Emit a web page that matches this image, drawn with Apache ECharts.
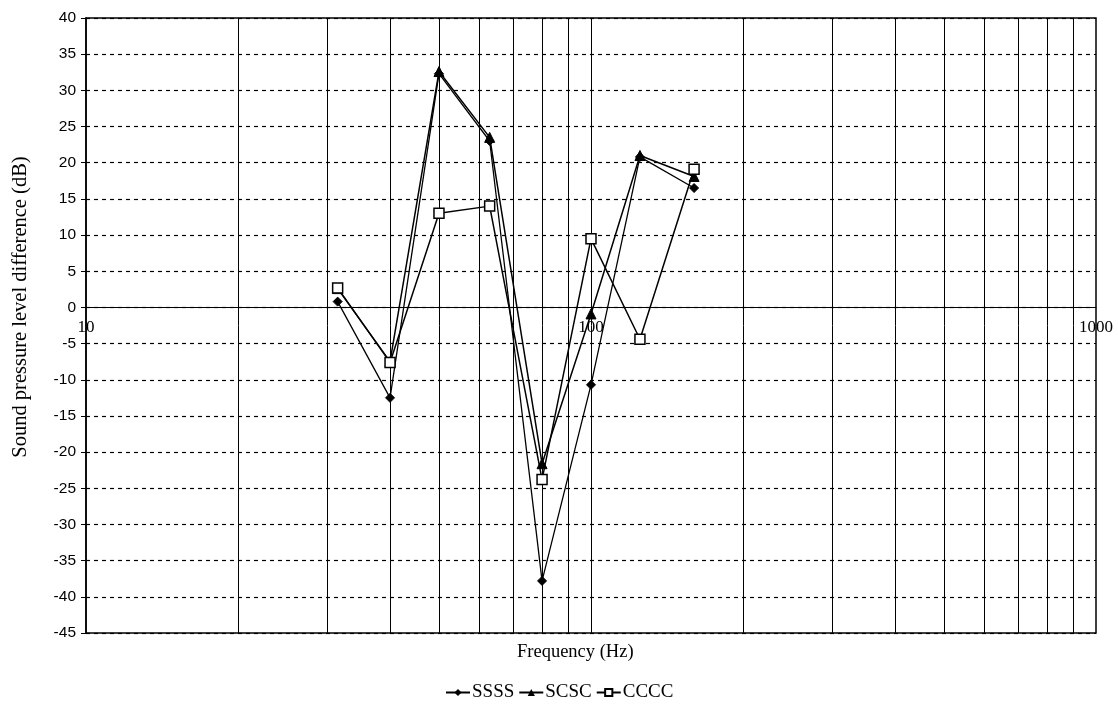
<!DOCTYPE html>
<html>
<head>
<meta charset="utf-8">
<script src="https://cdn.jsdelivr.net/npm/echarts@6/dist/echarts.min.js"></script>
<style>html,body{margin:0;padding:0;background:#fff}#c{width:1118px;height:709px}</style>
</head>
<body>
<div id="c"></div>
<script>
const freqs = [31.5, 40, 50, 63, 80, 100, 125, 160];
const ssss = [0.8, -12.5, 32.3, 23.0, -37.8, -10.7, 20.8, 16.5];
const scsc = [2.6, -7.5, 32.6, 23.5, -21.6, -0.9, 21.0, 18.1];
const cccc = [2.7, -7.6, 13.0, 14.0, -23.8, 9.5, -4.4, 19.1];
const minorFreqs = [20, 30, 40, 50, 60, 70, 80, 90, 100, 200, 300, 400, 500, 600, 700, 800, 900];
const yMin = -45, yMax = 40, yStep = 5;

const serif = '"Liberation Serif", "DejaVu Serif", serif';
const sans = '"Liberation Sans", Arial, sans-serif';
const pair = (vals) => freqs.map((f, i) => [f, vals[i]]);

const W = 1118, H = 709;
const gTop = 18, gBottom = 76, gLeft = 86, gRight = 22;
const plotH = H - gTop - gBottom;
// move the x axis (line + labels) up to the value 0, like the reference
const xOffset = -plotH * (0 - yMin) / (yMax - yMin);

const chart = echarts.init(document.getElementById('c'), null, {renderer: 'canvas'});
chart.setOption({
  animation: false,
  backgroundColor: '#fff',
  grid: {left: gLeft, right: gRight, top: gTop, bottom: gBottom, show: true, borderColor: '#000', borderWidth: 1.5, backgroundColor: 'transparent'},
  xAxis: {
    type: 'log', logBase: 10, min: 10, max: 1000,
    position: 'bottom', offset: xOffset,
    axisLine: {onZero: false, lineStyle: {color: '#000', width: 1}},
    axisTick: {show: false},
    splitLine: {show: false},
    axisLabel: {color: '#000', fontFamily: serif, fontSize: 17, margin: 12, formatter: v => String(v)}
  },
  yAxis: {
    type: 'value', min: yMin, max: yMax, interval: yStep,
    axisLine: {show: true, lineStyle: {color: '#000', width: 1.5}},
    axisTick: {show: true, inside: false, length: 5, lineStyle: {color: '#000'}},
    axisLabel: {color: '#000', fontFamily: sans, fontSize: 15.5, margin: 10},
    splitLine: {show: true, lineStyle: {color: '#000', width: 1.2, type: [4, 4]}}
  },
  graphic: [
    {
      type: 'text', left: 517, top: 643,
      style: {text: 'Frequency (Hz)', fill: '#000', font: '18.5px ' + serif}
    },
    {
      type: 'text', x: 21, y: 307, rotation: Math.PI / 2,
      style: {text: 'Sound pressure level difference (dB)', fill: '#000', font: '20.5px ' + serif,
              align: 'center', verticalAlign: 'middle'}
    }
  ],
  legend: {
    left: 440, top: 678,
    data: ['SSSS', 'SCSC', 'CCCC'],
    itemWidth: 24, itemHeight: 9, itemGap: 4,
    textStyle: {color: '#000', fontFamily: serif, fontSize: 19, padding: [0, 0, 0, -3]}
  },
  series: [
    {
      name: 'gridlines', type: 'line', data: [], silent: true, z: 1,
      markLine: {
        silent: true, symbol: 'none', animation: false,
        label: {show: false},
        lineStyle: {color: '#000', width: 1, type: 'solid'},
        data: minorFreqs.map(f => ({xAxis: f}))
      }
    },
    {
      name: 'SSSS', type: 'line', data: pair(ssss), z: 3,
      symbol: 'diamond', symbolSize: 9,
      lineStyle: {color: '#000', width: 1.3},
      itemStyle: {color: '#000', borderColor: '#000'}
    },
    {
      name: 'SCSC', type: 'line', data: pair(scsc), z: 4,
      symbol: 'triangle', symbolSize: 10,
      lineStyle: {color: '#000', width: 1.5},
      itemStyle: {color: '#000', borderColor: '#000'}
    },
    {
      name: 'CCCC', type: 'line', data: pair(cccc), z: 5,
      symbol: 'rect', symbolSize: 10,
      lineStyle: {color: '#000', width: 1.5},
      itemStyle: {color: '#fff', borderColor: '#000', borderWidth: 1.5}
    }
  ]
});
</script>
</body>
</html>
